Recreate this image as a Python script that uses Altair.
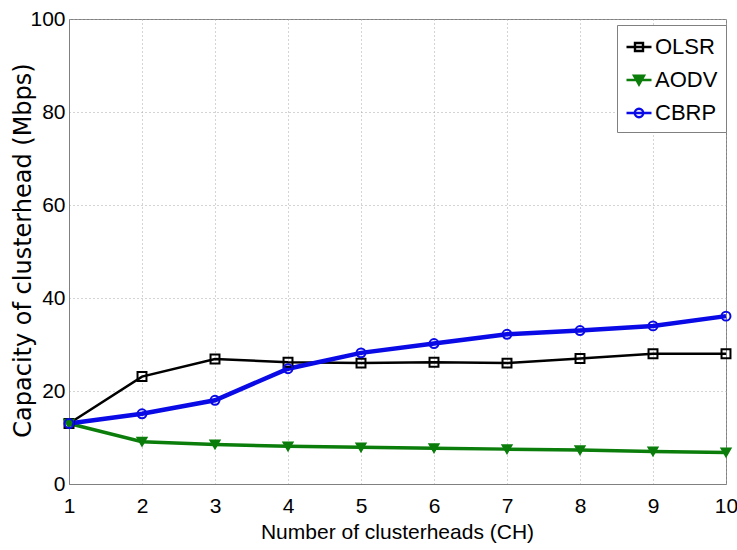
import altair as alt
import pandas as pd

# ---- data ----
x_vals = [1, 2, 3, 4, 5, 6, 7, 8, 9, 10]
olsr = [13.0, 23.1, 26.9, 26.2, 26.0, 26.2, 26.0, 27.0, 28.0, 28.0]
aodv = [13.0, 9.1, 8.5, 8.1, 7.9, 7.7, 7.5, 7.3, 7.0, 6.8]
cbrp = [13.0, 15.1, 18.0, 24.8, 28.2, 30.2, 32.2, 33.0, 34.0, 36.1]
series_names = ["OLSR", "AODV", "CBRP"]
y_ticks = [0, 20, 40, 60, 80, 100]

rows = []
for name, vals in zip(series_names, [olsr, aodv, cbrp]):
    for xv, yv in zip(x_vals, vals):
        rows.append({"x": xv, "y": yv, "series": name})
df = pd.DataFrame(rows)

colors = ["#000000", "#0b7d0b", "#0a0ae6"]
fills = ["transparent", "#0b7d0b", "transparent"]
widths = [2.5, 4.5, 3.5]
marker_shapes = ["square", "triangle-down", "circle"]
legend_shapes = [
    "M-1,0H1M-0.32,-0.32H0.32V0.32H-0.32Z",
    "M-1,0H1M-0.4,-0.34L0.4,-0.34L0,0.36Z",
    "M-1,0H1M0.34,0A0.34,0.34 0 1,1 -0.34,0A0.34,0.34 0 1,1 0.34,0Z",
]

NARROW = "Liberation Sans Narrow, Arial Narrow, Liberation Sans, Arial"

xscale = alt.Scale(domain=[1, 10], nice=False, zero=False)
yscale = alt.Scale(domain=[0, 100], nice=False)

xaxis = alt.Axis(
    values=x_vals, format="d", title="Number of clusterheads (CH)",
    labelFont=NARROW, labelFontSize=21, labelColor="#000000", labelPadding=11,
    ticks=False, domainColor="#808080", domainWidth=1,
    grid=True, gridColor="#a8a8a8", gridDash=[1, 3], gridWidth=1,
    titleFont=NARROW, titleFontSize=21, titleFontWeight="normal", titleColor="#000000",
    titleBaseline="alphabetic", titleY=54, titleX=328,
    labelFlush=False,
)
yaxis = alt.Axis(
    values=y_ticks, title="Capacity of clusterhead (Mbps)",
    labelFont=NARROW, labelFontSize=21, labelColor="#000000", labelPadding=4,
    ticks=False, domainColor="#808080", domainWidth=1,
    grid=True, gridColor="#a8a8a8", gridDash=[1, 3], gridWidth=1,
    titleFont="DejaVu Sans", titleFontSize=24, titleFontWeight="normal", titleColor="#000000",
    titleAngle=270, titleAlign="center", titleBaseline="alphabetic",
    titleX=-39, titleY=231, labelFlush=False,
)

base = alt.Chart(df)

lines = base.mark_line().encode(
    x=alt.X("x:Q", scale=xscale, axis=xaxis),
    y=alt.Y("y:Q", scale=yscale, axis=yaxis),
    color=alt.Color("series:N", scale=alt.Scale(domain=series_names, range=colors), legend=None),
    strokeWidth=alt.StrokeWidth("series:N", scale=alt.Scale(domain=series_names, range=widths), legend=None),
    detail="series:N",
)

points = base.mark_point(strokeWidth=2, opacity=1, size=80).encode(
    x=alt.X("x:Q", scale=xscale),
    y=alt.Y("y:Q", scale=yscale),
    stroke=alt.Stroke("series:N", scale=alt.Scale(domain=series_names, range=colors), legend=None),
    fill=alt.Fill("series:N", scale=alt.Scale(domain=series_names, range=fills), legend=None),
    shape=alt.Shape("series:N", scale=alt.Scale(domain=series_names, range=marker_shapes), legend=None),
)

legend_cfg = dict(
    title=None, orient="none", legendX=548, legendY=6,
    fillColor="#ffffff", strokeColor="#808080", padding=8,
    labelFont=NARROW, labelFontSize=22, labelColor="#000000",
    symbolSize=625, symbolStrokeWidth=2.4, rowPadding=8, labelOffset=2,
    labelLimit=200,
)

legend_layer = base.transform_filter("datum.x < 0").mark_point(strokeWidth=2.4, opacity=1).encode(
    x=alt.X("x:Q", scale=xscale),
    y=alt.Y("y:Q", scale=yscale),
    stroke=alt.Stroke("series:N", scale=alt.Scale(domain=series_names, range=colors),
                      legend=alt.Legend(**legend_cfg)),
    fill=alt.Fill("series:N", scale=alt.Scale(domain=series_names, range=fills),
                  legend=alt.Legend(**legend_cfg)),
    shape=alt.Shape("series:N", scale=alt.Scale(domain=series_names, range=legend_shapes),
                    legend=alt.Legend(**legend_cfg)),
)

chart = alt.layer(lines, points, legend_layer).resolve_scale(
    color="independent", stroke="independent", fill="independent",
    shape="independent", strokeWidth="independent",
).properties(
    width=657, height=465,
    autosize=alt.AutoSizeParams(type="none"),
    padding={"left": 69, "top": 19, "right": 11, "bottom": 66},
    background="#ffffff",
).configure_view(
    stroke="#808080", strokeWidth=1,
)

chart.save("out.html", embed_options={"renderer": "svg", "actions": False})
